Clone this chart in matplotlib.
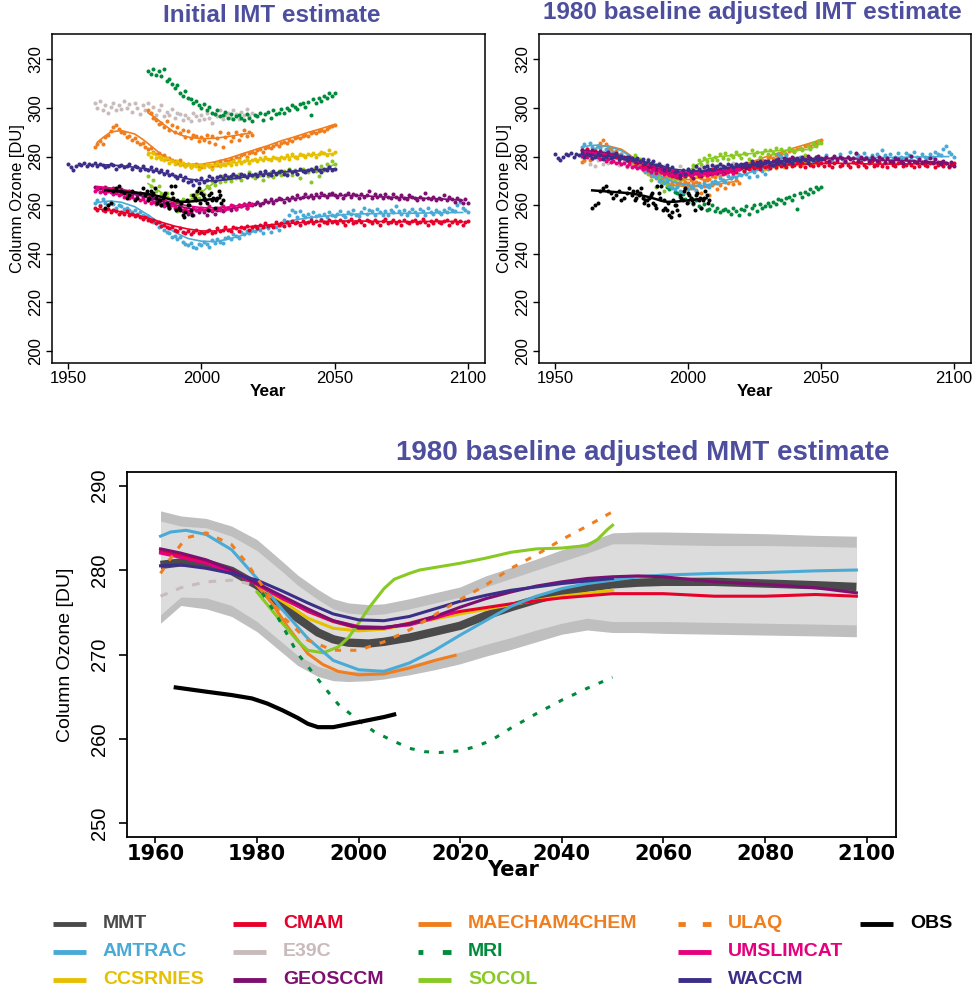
import numpy as np
import matplotlib
matplotlib.use("Agg")
import matplotlib.pyplot as plt
from matplotlib.lines import Line2D

plt.rcParams['font.family'] = ['Liberation Sans', 'DejaVu Sans']

# ---- 1980 baseline adjusted smooth curves (bottom panel) ----
mmt_yr = [1961, 1965, 1970, 1975, 1980, 1985, 1988, 1992, 1995, 1998, 2002, 2005, 2010, 2015, 2020,
          2025, 2030, 2035, 2040, 2045, 2050, 2055, 2060, 2070, 2080, 2090, 2098]
mmt_fit = [280.6, 280.9, 280.8, 279.9, 278.2, 275.8, 274.3, 272.6, 271.8, 271.4, 271.3, 271.5, 272.0, 272.7, 273.4,
           274.6, 275.6, 276.5, 277.3, 277.9, 278.3, 278.5, 278.6, 278.6, 278.4, 278.2, 278.0]
band_outer_hi = [287.0, 286.4, 286.1, 285.2, 283.6, 281.0, 279.4, 277.7, 276.6, 276.1, 275.9, 276.0, 276.6, 277.3, 278.0,
                 279.3, 280.3, 281.3, 282.4, 283.3, 284.4, 284.5, 284.5, 284.4, 284.3, 284.1, 284.0]
band_inner_hi = [285.8, 285.2, 285.0, 284.0, 282.3, 279.8, 278.2, 276.5, 275.4, 274.9, 274.7, 274.8, 275.4, 276.1, 276.8,
                 278.0, 279.0, 280.0, 281.0, 282.0, 283.1, 283.1, 283.0, 282.9, 282.9, 282.8, 282.7]
band_inner_lo = [274.7, 276.8, 276.7, 275.8, 273.9, 271.4, 269.9, 268.6, 268.1, 268.0, 268.1, 268.3, 268.8, 269.5, 270.3,
                 271.2, 272.0, 272.9, 273.7, 274.3, 273.9, 273.9, 273.9, 273.8, 273.7, 273.6, 273.5]
band_outer_lo = [273.7, 275.8, 275.4, 274.5, 272.7, 270.2, 268.7, 267.4, 266.9, 266.8, 266.9, 267.1, 267.6, 268.2, 268.9,
                 269.8, 270.6, 271.5, 272.4, 272.9, 272.6, 272.6, 272.5, 272.4, 272.3, 272.2, 272.1]

amtrac_yr = [1961, 1963, 1966, 1970, 1975, 1980, 1985, 1990, 1995, 2000, 2005, 2010, 2015,
             2020, 2025, 2030, 2035, 2040, 2045, 2050, 2055, 2060, 2070, 2080, 2090, 2098]
amtrac_fit = [284.0, 284.5, 284.7, 284.2, 282.4, 279.0, 275.3, 271.9, 269.3, 268.2, 268.0, 269.0, 270.5,
              272.3, 274.0, 275.7, 276.9, 277.8, 278.4, 278.8, 279.2, 279.4, 279.6, 279.7, 279.9, 280.0]
ccsrnies_yr = [1980, 1985, 1990, 1995, 2000, 2005, 2010, 2020, 2030, 2040, 2050]
ccsrnies_fit = [278.2, 276.3, 274.3, 273.1, 272.8, 273.0, 273.6, 274.8, 275.9, 276.9, 277.6]
cmam_yr = [1961, 1965, 1970, 1975, 1980, 1985, 1990, 1995, 2000, 2005, 2010, 2015, 2020,
           2030, 2040, 2050, 2060, 2070, 2080, 2090, 2098]
cmam_fit = [282.2, 281.7, 281.0, 279.9, 278.4, 276.7, 275.1, 273.9, 273.1, 273.1, 273.7, 274.5, 275.1,
            276.0, 276.7, 277.2, 277.2, 276.9, 276.9, 277.1, 276.9]
e39c_yr = [1961, 1965, 1970, 1975, 1980]
e39c_fit = [276.9, 277.9, 278.6, 278.8, 278.2]
geosccm_yr = [1961, 1965, 1970, 1975, 1980, 1985, 1990, 1995, 2000, 2005, 2010, 2015, 2020,
              2025, 2030, 2035, 2040, 2045, 2050, 2055, 2060, 2065, 2070, 2080, 2090, 2098]
geosccm_fit = [282.5, 282.0, 281.2, 280.0, 278.4, 276.9, 275.4, 274.0, 273.2, 273.2, 273.6, 274.5, 275.6,
               276.6, 277.4, 278.1, 278.6, 279.0, 279.2, 279.3, 279.2, 278.9, 278.6, 278.3, 277.9, 277.3]
maecham_yr = [1980, 1983, 1986, 1990, 1993, 1996, 2000, 2005, 2010, 2015, 2019]
maecham_fit = [278.2, 276.0, 273.3, 270.1, 268.8, 268.0, 267.6, 267.7, 268.4, 269.3, 269.9]
mri_yr = [1981, 1984, 1988, 1990, 1993, 1996, 2000, 2003, 2006, 2010, 2013, 2016, 2020, 2023, 2026,
          2030, 2035, 2040, 2045, 2050]
mri_fit = [277.3, 274.5, 270.1, 268.6, 266.3, 264.1, 262.2, 260.9, 260.0, 258.9, 258.5, 258.4, 258.6, 259.1, 259.8,
           261.3, 263.0, 264.6, 266.0, 267.3]
socol_yr = [1980, 1985, 1988, 1990, 1993, 1996, 1998, 2000, 2002, 2005, 2007, 2010, 2012, 2015, 2020, 2025,
            2030, 2035, 2040, 2045, 2047, 2049, 2050]
socol_fit = [277.4, 273.7, 271.6, 270.5, 270.2, 270.9, 272.0, 273.7, 275.5, 277.8, 278.9, 279.6, 280.0, 280.3, 280.8,
             281.4, 282.1, 282.5, 282.6, 282.9, 283.6, 284.8, 285.3]
ulaq_yr = [1961, 1963, 1966, 1970, 1975, 1978, 1982, 1985, 1990, 1995, 2000, 2005, 2010, 2015,
           2020, 2025, 2030, 2035, 2040, 2045, 2050]
ulaq_fit = [279.6, 281.4, 283.8, 284.4, 283.0, 280.8, 277.3, 274.5, 271.7, 270.5, 270.5, 271.5, 272.9, 274.7,
            276.5, 278.2, 280.2, 281.8, 283.6, 285.2, 286.9]
umslimcat_yr = [1961, 1965, 1970, 1975, 1980, 1985, 1990, 1995, 2000, 2005, 2010, 2015, 2019]
umslimcat_fit = [282.0, 281.5, 280.8, 279.8, 278.3, 276.6, 275.2, 274.0, 273.3, 273.2, 273.5, 274.3, 275.0]
waccm_yr = [1961, 1965, 1970, 1975, 1980, 1985, 1990, 1995, 2000, 2005, 2010, 2015, 2020,
            2025, 2030, 2035, 2040, 2045, 2050]
waccm_fit = [280.5, 280.6, 280.2, 279.6, 278.8, 277.5, 276.1, 274.8, 274.1, 274.0, 274.5, 275.4, 276.3,
             277.0, 277.6, 278.0, 278.4, 278.7, 279.0]
obs_yr = [1964, 1970, 1975, 1979, 1982, 1985, 1988, 1990, 1992, 1995, 2000, 2005, 2007]
obs_fit = [266.1, 265.6, 265.2, 264.8, 264.2, 263.4, 262.5, 261.8, 261.4, 261.4, 262.0, 262.6, 262.9]

# ---- baseline offsets (adjusted - initial), DU ----
offsets = {'AMTRAC': 23.0, 'CCSRNIES': -3.6, 'CMAM': 23.7, 'E39C': -22.0, 'GEOSCCM': 15.3,
           'MAECHAM4CHEM': -19.8, 'MRI': -38.5, 'SOCOL': 8.5, 'ULAQ': -6.3, 'UMSLIMCAT': 14.3,
           'WACCM': 4.0, 'OBS': 0.0}

# ---- raw annual values (initial IMT), one per year from start year ----
cmam_start = 1960
cmam_pts = [259, 258, 259.5, 258, 257.5, 258.5, 257, 258, 257.5, 256.5,
            257, 256.5, 257.5, 256, 256.5, 255.5, 256, 255, 254.5, 255,
            254, 253.5, 254, 252.5, 253, 251.5, 252, 251, 250.5, 251,
            250, 249.5, 250.5, 249, 248.5, 249.5, 248, 249, 250, 248.5,
            249, 248.5, 249.5, 250, 248.5, 249, 250.5, 249.5, 250, 251,
            250, 249.5, 251, 250.5, 249.5, 251, 250.5, 251.5, 250, 251,
            251.5, 250.5, 252, 251, 252.5, 251.5, 252, 251, 253, 252,
            252.5, 251.5, 253, 252, 253.5, 252.5, 253, 252, 253.5, 252.5,
            253, 254, 252.5, 253.5, 252, 254, 253, 252.5, 254, 253,
            253.5, 252.5, 254, 253, 252, 253.5, 254.5, 252.5, 253, 254,
            253, 252, 254, 253.5, 252.5, 254, 253, 252, 253.5, 254.5,
            252.5, 253, 254, 252.5, 253.5, 252, 254, 253, 252.5, 253.5,
            254, 252.5, 253, 254.5, 253, 252, 253.5, 252.5, 254, 253,
            252.5, 253.5, 254, 252, 253, 254, 252.5, 253.5, 252, 253, 253.5]
amtrac_start = 1960
amtrac_pts = [261, 262, 260, 262.5, 261, 260, 261.5, 260.5, 259, 260,
              259.5, 258.5, 259, 258, 257, 258, 256.5, 257, 256, 255,
              255.5, 254, 253, 252.5, 251, 251.5, 250, 249, 248.5, 247,
              247.5, 246, 247, 245, 244, 243.5, 244.5, 243, 242.5, 244,
              243.5, 245, 244, 243, 245.5, 244.5, 246, 245, 244.5, 246.5,
              247, 246, 248, 247.5, 246.5, 249, 248, 249.5, 248.5, 250,
              249.5, 251, 250, 248.5, 251.5, 250.5, 249, 252, 251, 250,
              252, 254, 253, 256, 258, 257, 255, 257.5, 256, 255,
              256.5, 255, 257, 255.5, 256, 254.5, 256.5, 255, 257, 256,
              255.5, 256.5, 257.5, 256, 255, 257, 256.5, 258, 256, 255.5,
              257, 259, 256.5, 258, 257.5, 256, 258.5, 257, 256, 257.5,
              256, 258, 257, 259.5, 257.5, 256.5, 258, 256, 257, 258.5,
              257, 256, 258.5, 257.5, 256, 259, 257, 256.5, 258, 257,
              256.5, 258, 257, 259, 258, 257.5, 260, 261.5, 259, 258, 257]
geosccm_start = 1960
geosccm_pts = [267.5, 266.5, 267, 266, 267.5, 266.5, 266, 267, 265.5, 266,
               266.5, 265.5, 265, 266, 264.5, 265, 264, 264.5, 263.5, 264,
               263, 262.5, 263, 261.5, 262, 260.5, 261, 260, 259.5, 260.5,
               259, 258.5, 260, 257.5, 258, 256.5, 257, 256, 258, 257,
               258.5, 257, 256, 258, 257.5, 256.5, 258, 259, 257.5, 258.5,
               259, 258, 259.5, 258.5, 260, 259.5, 260.5, 259, 261, 260,
               260.5, 261.5, 260, 261, 262, 261.5, 262.5, 261, 262, 263,
               262.5, 261.5, 263, 262, 263.5, 262.5, 264, 263, 263.5, 264.5,
               263.5, 264, 263, 264.5, 263.5, 265, 264, 263.5, 264.5, 265,
               264, 263.5, 264.5, 263, 264, 265, 263.5, 264.5, 264, 263,
               264.5, 263.5, 264, 266, 263, 264.5, 263.5, 264, 263, 264.5,
               263.5, 263, 264.5, 263.5, 262.5, 264, 263, 262.5, 264, 263.5,
               263, 262, 263.5, 262.5, 265, 263, 262.5, 263.5, 262, 263,
               262.5, 264, 262, 263.5, 262.5, 261.5, 263, 262, 261, 262.5, 261]
waccm_start = 1950
waccm_pts = [277, 275.5, 274.5, 276, 277, 276.5, 277.5, 276, 277, 276.5,
             277.5, 276, 277, 276.5, 275.5, 276, 277, 276.5, 275, 276,
             276.5, 275.5, 276, 277, 275, 276, 275.5, 274.5, 276, 275,
             274.5, 275.5, 274, 275, 273.5, 274.5, 273, 274, 272.5, 273,
             272, 271, 272.5, 270.5, 271.5, 269.5, 270, 268.5, 270.5, 269,
             271, 269.5, 270.5, 272, 271, 270, 271.5, 272, 271, 272.5,
             271.5, 272, 273, 272, 271.5, 273, 272.5, 271.5, 273, 272.5,
             273, 272, 273.5, 272.5, 274, 273, 272.5, 274, 273, 273.5,
             274, 273, 272.5, 274.5, 273.5, 274, 273, 275, 274, 273.5,
             274.5, 275, 274, 275.5, 274.5, 273.5, 275, 274.5, 275.5, 274.5, 275]
e39c_start = 1960
e39c_pts = [302, 300, 303, 299, 301, 298, 300.5, 302, 299, 301,
            299.5, 303, 300, 301.5, 298.5, 302, 300, 297.5, 301, 299,
            302, 298, 300.5, 297, 299, 301, 296.5, 298.5, 297, 299.5,
            296, 298, 297.5, 295, 297, 296, 294.5, 298, 296.5, 295,
            297, 295.5, 298, 296, 294, 297.5, 296.5, 299, 295.5, 297,
            298, 296, 299, 297.5, 295.5, 298.5, 297, 299.5, 296.5, 298]
ulaq_start = 1960
ulaq_pts = [284, 285, 286.5, 285, 288, 289, 290.5, 292, 293, 291.5,
            290, 289.5, 288, 288.5, 287, 287.5, 286, 285, 285.5, 284,
            283, 283.5, 282, 281, 281.5, 280, 280.5, 279, 279.5, 278.5,
            278, 277.5, 278.5, 277, 276, 277, 275.5, 276.5, 277, 276,
            275.5, 276.5, 277, 276, 275.5, 277.5, 276.5, 278, 277, 278.5,
            278, 279, 278.5, 280, 279.5, 280.5, 281, 280, 281.5, 282,
            281.5, 282.5, 283, 282, 283.5, 284, 283.5, 284.5, 285, 284.5,
            285.5, 286, 285.5, 287, 286.5, 287.5, 288, 287.5, 288.5, 289,
            288.5, 289.5, 290, 289.5, 290.5, 291, 290.5, 291.5, 292, 292.5, 293]
maecham_start = 1980
maecham_pts = [299, 298, 296, 295, 293.5, 294, 292, 294.5, 291, 293,
               290, 292, 289.5, 291, 288, 290.5, 287.5, 289, 288.5, 286.5,
               288, 287, 289, 286, 288.5, 285, 287.5, 290, 284, 288,
               289.5, 286.5, 288, 290, 287, 289, 291, 288.5, 290, 289]
mri_start = 1980
mri_pts = [315, 314, 316, 313.5, 315, 313, 316, 311, 312, 310,
           308, 309.5, 306, 305, 307, 304, 303.5, 302, 303, 301,
           300, 301.5, 299, 300.5, 298, 297.5, 299, 296.5, 297, 298.5,
           296, 297.5, 295.5, 296.5, 297, 296, 295, 297.5, 296, 294.5,
           297, 296.5, 298, 295, 297.5, 298.5, 296, 299, 297.5, 298,
           299.5, 298, 300, 299, 301, 300.5, 299.5, 301.5, 302, 300.5,
           302.5, 297, 303.5, 302, 304, 303, 305, 304, 306, 305, 306]
socol_start = 1980
socol_pts = [272, 268, 270.5, 266, 268, 264.5, 262, 265, 259, 263,
             261, 257.5, 260, 262.5, 259, 261.5, 264, 262, 265, 263,
             266, 264.5, 268, 267, 270, 268.5, 271, 269.5, 272, 270,
             271.5, 270, 272.5, 271, 273, 270.5, 272, 271.5, 273.5, 272,
             271, 273, 272.5, 270.5, 274, 272, 273.5, 271.5, 273, 274,
             272.5, 274, 273, 275, 272.5, 274.5, 273, 271, 275, 274,
             273.5, 269.5, 275, 274, 272, 276, 274.5, 277, 276, 278, 277]
ccsrnies_start = 1980
ccsrnies_pts = [281, 280, 281.5, 279.5, 280, 279, 278.5, 279.5, 277.5, 278,
                277, 278, 276.5, 277.5, 276, 277, 275.5, 276.5, 276, 275,
                276.5, 275.5, 277, 276, 275, 276.5, 277.5, 276, 277, 276.5,
                277.5, 276.5, 278, 277, 278.5, 277.5, 278, 279, 277.5, 278.5,
                279, 278, 279.5, 278.5, 280, 279, 278.5, 280, 279.5, 278.5,
                280, 279.5, 280.5, 279, 281, 280, 279.5, 281, 280.5, 280,
                281, 280.5, 281.5, 280, 281, 282, 281.5, 280.5, 282.5, 281, 282]
umslimcat_start = 1960
umslimcat_pts = [266, 267, 265.5, 266.5, 265, 266, 265.5, 264.5, 265, 264,
                 264.5, 263.5, 264, 263, 263.5, 262.5, 263, 262, 262.5, 261.5,
                 262, 261, 261.5, 260.5, 261, 260, 259.5, 260.5, 259, 260,
                 259.5, 258.5, 259, 258, 258.5, 257.5, 258, 259, 258, 258.5,
                 259, 258, 258.5, 259.5, 258, 258.5, 259, 258, 259.5, 258.5,
                 259, 260, 259.5, 258.5, 260, 259.5, 260.5, 259, 260, 260.5]
obs_start = 1964
obs_pts = [259, 260, 261, 266, 267, 268, 266, 265, 263, 264,
           266, 262, 263, 265, 267, 264, 262, 266, 265, 263,
           262, 260, 264, 261, 259, 265, 268, 262, 258, 256,
           257, 260, 258, 264, 262, 267, 265, 263, 261, 264,
           262, 259, 263, 264, 262]
obs_start2 = 1979.5
obs_pts2 = [266, 263, 264, 267, 261, 262, 263, 265, 260, 268, 263, 258, 259, 261, 255,
            262, 260, 256, 263, 266, 261, 264, 262, 258, 265, 263, 262, 266, 261]

colors = {'MMT': '#4a4a4a', 'AMTRAC': '#4aaad6', 'CCSRNIES': '#e6c000', 'CMAM': '#e6002a',
          'E39C': '#c9bbbb', 'GEOSCCM': '#7d0f70', 'MAECHAM4CHEM': '#f07e1e', 'MRI': '#008a3c',
          'SOCOL': '#88c924', 'ULAQ': '#f07e1e', 'UMSLIMCAT': '#e5007d', 'WACCM': '#3b2e88',
          'OBS': '#000000'}
title_color = '#4e4e9e'

# draw order for top panels: (name, start, pts, curve years, curve values, draw line?)
series = [
    ('E39C', e39c_start, e39c_pts, e39c_yr, e39c_fit, False),
    ('MRI', mri_start, mri_pts, mri_yr, mri_fit, False),
    ('MAECHAM4CHEM', maecham_start, maecham_pts, maecham_yr, maecham_fit, True),
    ('ULAQ', ulaq_start, ulaq_pts, ulaq_yr, ulaq_fit, True),
    ('CCSRNIES', ccsrnies_start, ccsrnies_pts, ccsrnies_yr, ccsrnies_fit, True),
    ('SOCOL', socol_start, socol_pts, socol_yr, socol_fit, True),
    ('AMTRAC', amtrac_start, amtrac_pts, amtrac_yr, amtrac_fit, True),
    ('CMAM', cmam_start, cmam_pts, cmam_yr, cmam_fit, True),
    ('GEOSCCM', geosccm_start, geosccm_pts, geosccm_yr, geosccm_fit, True),
    ('UMSLIMCAT', umslimcat_start, umslimcat_pts, umslimcat_yr, umslimcat_fit, True),
    ('WACCM', waccm_start, waccm_pts, waccm_yr, waccm_fit, True),
]

fig = plt.figure(figsize=(9.75, 9.94), dpi=100)
W, H = 975.0, 994.0


def px_axes(x0, y0, x1, y1):
    return fig.add_axes([x0 / W, 1 - y1 / H, (x1 - x0) / W, (y1 - y0) / H])


def style_top(ax):
    ax.set_xlim(1944, 2106.4)
    ax.set_ylim(195.1, 330.4)
    ax.set_xticks([1950, 2000, 2050, 2100])
    ax.set_yticks(range(200, 321, 20))
    ax.tick_params(direction='out', length=4, width=1, labelsize=12, pad=1.5)
    ax.tick_params(axis='y', pad=2.5)
    for lab in ax.get_yticklabels():
        lab.set_rotation(90)
        lab.set_va('center')
    for sp in ax.spines.values():
        sp.set_linewidth(1.1)
    ax.set_xlabel('Year', fontsize=12.5, fontweight='bold', va='center')
    ax.xaxis.set_label_coords(0.5, -0.088)
    ax.set_ylabel('Column Ozone [DU]', fontsize=12, va='center')
    ax.yaxis.set_label_coords(-0.079, 0.5)


ax1 = px_axes(52, 34, 485, 363)
ax2 = px_axes(539, 34, 971, 363)

ms = 2.9
for ax, adjusted in [(ax1, False), (ax2, True)]:
    for name, start, pts, cyr, cfit, has_line in series:
        off = offsets[name]
        yrs = start + np.arange(len(pts))
        vals = np.array(pts) + (off if adjusted else 0.0)
        ax.plot(yrs, vals, 'o', ms=ms, mec='none', color=colors[name])
        if has_line:
            curve = np.array(cfit) - (0.0 if adjusted else off)
            ax.plot(cyr, curve, '-', lw=1.2, color=colors[name])
    # observations, never adjusted
    ax.plot(obs_start + np.arange(len(obs_pts)), obs_pts, 'o', ms=ms, mec='none', color='black')
    ax.plot(obs_start2 + np.arange(len(obs_pts2)), obs_pts2, 'o', ms=ms, mec='none', color='black')
    ax.plot(obs_yr, obs_fit, '-', lw=1.8, color='black')
    style_top(ax)

fig.text(272 / W, 1 - 16 / H, 'Initial IMT estimate', ha='center', va='center',
         fontsize=17.5, fontweight='bold', color=title_color)
fig.text(752 / W, 1 - 13 / H, '1980 baseline adjusted IMT estimate', ha='center', va='center',
         fontsize=17.5, fontweight='bold', color=title_color)

# ---- bottom panel ----
ax3 = px_axes(127, 472, 896, 837)
ax3.fill_between(mmt_yr, band_outer_lo, band_outer_hi, color='#bfbfbf', lw=0)
ax3.fill_between(mmt_yr, band_inner_lo, band_inner_hi, color='#dcdcdc', lw=0)
ax3.plot(mmt_yr, mmt_fit, color=colors['MMT'], lw=6, solid_capstyle='butt', solid_joinstyle='round')

lw = 2.2
ax3.plot(e39c_yr, e39c_fit, color=colors['E39C'], lw=lw, dashes=(2.5, 3))
ax3.plot(ccsrnies_yr, ccsrnies_fit, color=colors['CCSRNIES'], lw=lw)
ax3.plot(cmam_yr, cmam_fit, color=colors['CMAM'], lw=lw)
ax3.plot(maecham_yr, maecham_fit, color=colors['MAECHAM4CHEM'], lw=lw)
ax3.plot(socol_yr, socol_fit, color=colors['SOCOL'], lw=lw)
ax3.plot(amtrac_yr, amtrac_fit, color=colors['AMTRAC'], lw=lw)
ax3.plot(umslimcat_yr, umslimcat_fit, color=colors['UMSLIMCAT'], lw=lw)
ax3.plot(geosccm_yr, geosccm_fit, color=colors['GEOSCCM'], lw=lw)
ax3.plot(waccm_yr, waccm_fit, color=colors['WACCM'], lw=lw)
ax3.plot(ulaq_yr, ulaq_fit, color=colors['ULAQ'], lw=lw, dashes=(2, 3))
ax3.plot(mri_yr, mri_fit, color=colors['MRI'], lw=lw, dashes=(1.6, 3.2))
ax3.plot(obs_yr, obs_fit, color='black', lw=3, solid_joinstyle='round')

ax3.set_xlim(1954.4, 2105.8)
ax3.set_ylim(248.4, 291.6)
ax3.set_xticks(range(1960, 2101, 20))
ax3.set_yticks(range(250, 291, 10))
ax3.tick_params(direction='out', width=1.2)
ax3.tick_params(axis='x', length=4, pad=1)
ax3.tick_params(axis='y', length=6, pad=7)
for sp in ax3.spines.values():
    sp.set_linewidth(1.3)
for lab in ax3.get_xticklabels():
    lab.set_fontfamily('DejaVu Sans')
    lab.set_fontweight('bold')
    lab.set_fontsize(15)
for lab in ax3.get_yticklabels():
    lab.set_fontsize(14.5)
    lab.set_rotation(90)
    lab.set_va('center')
ax3.set_xlabel('Year', fontsize=15, fontweight='bold', family='DejaVu Sans', va='center')
ax3.xaxis.set_label_coords(0.502, -0.0904)
ax3.set_ylabel('Column Ozone [DU]', fontsize=14, va='center')
ax3.yaxis.set_label_coords(-0.08, 0.5)

fig.text(889 / W, 1 - 453 / H, '1980 baseline adjusted MMT estimate', ha='right', va='center',
         fontsize=20, fontweight='bold', color=title_color)

# ---- legend (column-major, 3 rows) ----
legend_cols = [
    (53, ['MMT', 'AMTRAC', 'CCSRNIES']),
    (233, ['CMAM', 'E39C', 'GEOSCCM']),
    (418, ['MAECHAM4CHEM', 'MRI', 'SOCOL']),
    (678, ['ULAQ', 'UMSLIMCAT', 'WACCM']),
    (860, ['OBS']),
]
row_y = [924, 952, 980]
styles = {'ULAQ': (1.5, 3.5, 4, 3.5), 'MRI': (1, 4, 4, 3)}
for x0, names in legend_cols:
    for name, yy in zip(names, row_y):
        kw = {}
        if name in styles:
            kw['dashes'] = styles[name]
        fig.add_artist(Line2D([x0 / W, (x0 + 33) / W], [1 - yy / H, 1 - yy / H],
                              transform=fig.transFigure, color=colors[name], lw=3.5,
                              solid_capstyle='butt', dash_capstyle='butt', **kw))
        fig.text((x0 + 50) / W, 1 - yy / H, name, ha='left', va='center', fontsize=14,
                 fontweight='bold', color=colors[name])

fig.savefig('out.png', dpi=100)
